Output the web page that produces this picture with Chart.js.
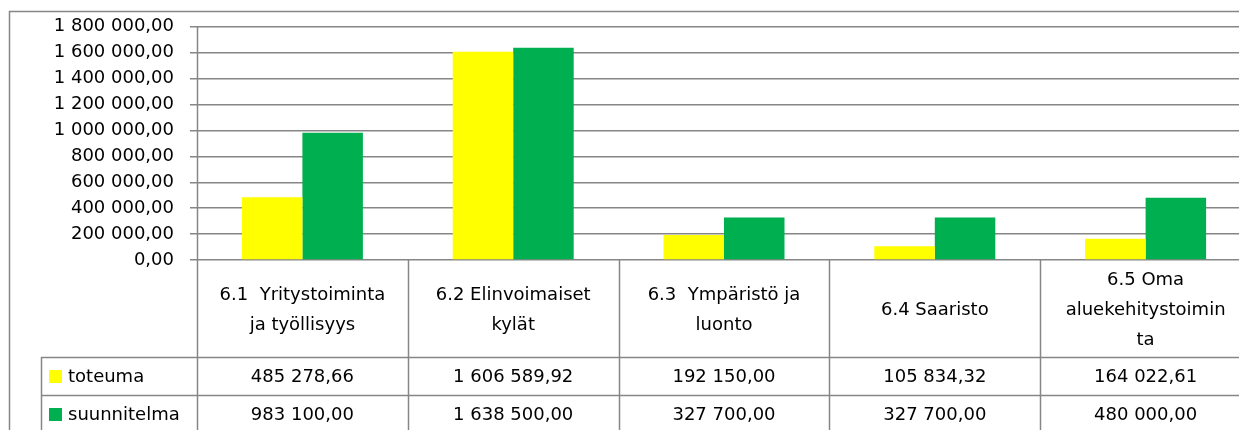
<!DOCTYPE html>
<html>
<head>
<meta charset="utf-8">
<script src="https://cdn.jsdelivr.net/npm/chart.js@4"></script>
<style>
  html, body { margin: 0; padding: 0; background: #fff; overflow: hidden; }
  #wrap { width: 1251px; height: 430px; }
</style>
</head>
<body>
<div id="wrap"><canvas id="chart" width="1251" height="430"></canvas></div>
<script>
const categories = [
  ['6.1  Yritystoiminta', 'ja työllisyys'],
  ['6.2 Elinvoimaiset', 'kylät'],
  ['6.3  Ympäristö ja', 'luonto'],
  ['6.4 Saaristo'],
  ['6.5 Oma', 'aluekehitystoimin', 'ta']
];
const seriesNames = ['toteuma', 'suunnitelma'];
const toteuma = [485278.66, 1606589.92, 192150.00, 105834.32, 164022.61];
const suunnitelma = [983100.00, 1638500.00, 327700.00, 327700.00, 480000.00];
const yTicks = [0, 200000, 400000, 600000, 800000, 1000000, 1200000, 1400000, 1600000, 1800000];

const colors = ['#ffff00', '#00b050'];
const lineGray = '#868686';
const lineW = 1.5;
const fontFamily = '"DejaVu Sans", sans-serif';

function fmt(v) {
  const parts = v.toFixed(2).split('.');
  const int = parts[0].replace(/\B(?=(\d{3})+(?!\d))/g, ' ');
  return int + ',' + parts[1];
}

// data table under the plot, drawn like the Excel one
const dataTable = {
  id: 'dataTable',
  afterDraw(chart) {
    const ctx = chart.ctx;
    const area = chart.chartArea;
    const x = chart.scales.x;
    const n = categories.length;
    const step = (area.right - area.left) / n;
    const headTop = area.bottom;
    const row1 = 357, row2 = 395, row3 = 433;
    const legendLeft = 41;

    ctx.save();
    ctx.strokeStyle = lineGray;
    ctx.lineWidth = lineW;

    // outer chart border
    ctx.strokeRect(9.5, 11.5, 2000, 1000);

    // vertical axis line runs on through the table, plus column separators
    ctx.beginPath();
    for (let i = 0; i <= n; i++) {
      const px = Math.round(area.left + i * step) + 0.5;
      ctx.moveTo(px, i === 0 ? area.top : headTop);
      ctx.lineTo(px, 440);
    }
    ctx.moveTo(legendLeft + 0.5, row1);
    ctx.lineTo(legendLeft + 0.5, 440);
    [row1, row2, row3].forEach((y) => {
      ctx.moveTo(legendLeft, y + 0.5);
      ctx.lineTo(area.right + 10, y + 0.5);
    });
    ctx.stroke();

    ctx.fillStyle = '#000';
    ctx.font = '18px ' + fontFamily;
    ctx.textAlign = 'center';
    ctx.textBaseline = 'middle';

    const lh = 30;
    categories.forEach((lines, i) => {
      const cx = x.getPixelForValue(i);
      const mid = (headTop + row1) / 2 + 2;
      lines.forEach((t, j) => {
        ctx.fillText(t, cx, mid + (j - (lines.length - 1) / 2) * lh);
      });
      ctx.fillText(fmt(toteuma[i]), cx, (row1 + row2) / 2 + 1);
      ctx.fillText(fmt(suunnitelma[i]), cx, (row2 + row3) / 2 + 1);
    });

    // legend keys
    ctx.textAlign = 'left';
    [row1, row2].forEach((top, k) => {
      const cy = (top + (k === 0 ? row2 : row3)) / 2;
      ctx.fillStyle = colors[k];
      ctx.fillRect(49, Math.round(cy - 6), 13, 13);
      ctx.fillStyle = '#000';
      ctx.fillText(seriesNames[k], 68, cy + 1);
    });
    ctx.restore();
  }
};

new Chart(document.getElementById('chart'), {
  type: 'bar',
  plugins: [dataTable],
  data: {
    labels: categories.map((c) => c.join(' ')),
    datasets: [
      { label: seriesNames[0], data: toteuma, backgroundColor: colors[0] },
      { label: seriesNames[1], data: suunnitelma, backgroundColor: colors[1] }
    ]
  },
  options: {
    responsive: false,
    animation: false,
    events: [],
    layout: { padding: { left: 0, right: 0, top: 26, bottom: 170 } },
    datasets: {
      bar: { barPercentage: 1, categoryPercentage: 0.574, borderWidth: 0 }
    },
    plugins: { legend: { display: false }, tooltip: { enabled: false } },
    scales: {
      x: { display: false },
      y: {
        min: 0,
        max: 1800000,
        afterFit(scale) { scale.width = 197; },
        afterBuildTicks(scale) { scale.ticks = yTicks.map((v) => ({ value: v })); },
        border: { display: false },
        grid: { color: lineGray, lineWidth: lineW, tickLength: 7 },
        ticks: {
          padding: 16,
          color: '#000',
          font: { family: fontFamily, size: 18 },
          callback: (v) => fmt(v)
        }
      }
    }
  }
});
</script>
</body>
</html>
